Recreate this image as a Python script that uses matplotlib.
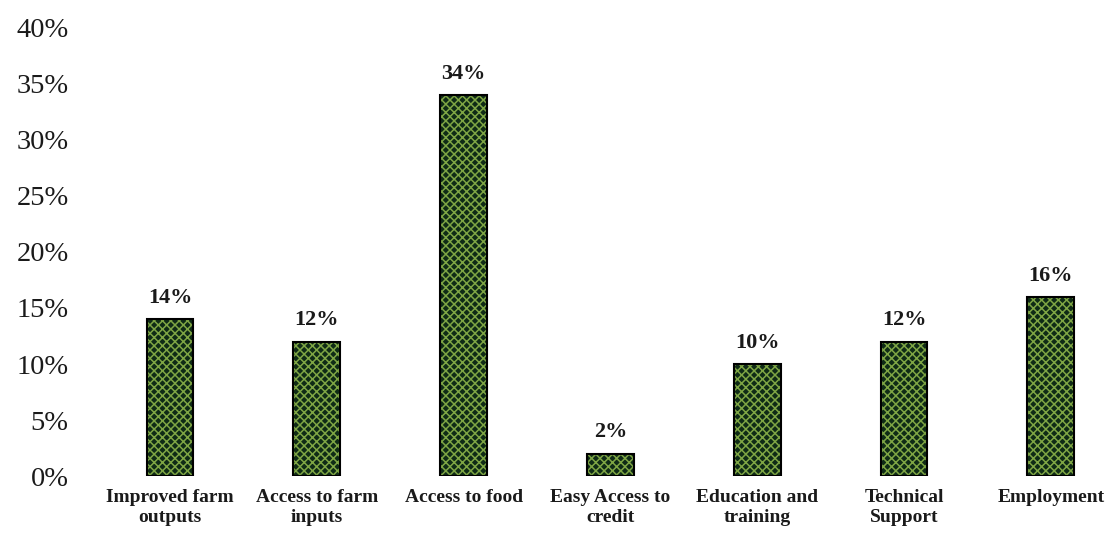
import matplotlib
matplotlib.use("Agg")
import matplotlib.pyplot as plt
from matplotlib.ticker import FuncFormatter

categories = ["Improved farm\noutputs", "Access to farm\ninputs", "Access to food",
              "Easy Access to\ncredit", "Education and\ntraining", "Technical\nSupport",
              "Employment"]
values = [14, 12, 34, 2, 10, 12, 16]
yticks = [0, 5, 10, 15, 20, 25, 30, 35, 40]

plt.rcParams["font.family"] = ["Liberation Serif", "DejaVu Serif"]
plt.rcParams["hatch.linewidth"] = 1.1

W, H = 1111, 534
fig = plt.figure(figsize=(W / 100, H / 100), dpi=100)
# axes placed in pixel terms: 0% at y=476, 40% at y=28
left_px, right_px = 95, 1110
ax = fig.add_axes([left_px / W, (H - 476) / H, (right_px - left_px) / W, 448 / H])

x = list(range(len(categories)))
# cross-hatched fill (hatch takes the edge colour), then a black outline on top
ax.bar(x, values, width=0.32, color="#0f2b16", edgecolor="#7ea544",
       linewidth=0, hatch="xxxx")
ax.bar(x, values, width=0.32, facecolor="none", edgecolor="black", linewidth=1.5)

for xi, v in zip(x, values):
    ax.text(xi, v + 1.0, f"{v}%", ha="center", va="bottom",
            fontsize=16, fontweight="bold", color="#1a1a1a")

first_center, pitch = 170, 146.8
ax.set_xlim((left_px - first_center) / pitch, (right_px - first_center) / pitch)
ax.set_ylim(0, 40)
ax.set_yticks(yticks)
ax.yaxis.set_major_formatter(FuncFormatter(lambda v, p: f"{int(v)}%"))
ax.set_xticks(x)
ax.set_xticklabels(categories, fontsize=14, fontweight="bold", linespacing=1.25)

for s in ax.spines.values():
    s.set_visible(False)
ax.tick_params(axis="y", length=0, labelsize=20.5, pad=19, labelcolor="#1a1a1a")
ax.tick_params(axis="x", length=0, pad=9, labelcolor="#1a1a1a")

fig.savefig("out.png", dpi=100, facecolor="white")
